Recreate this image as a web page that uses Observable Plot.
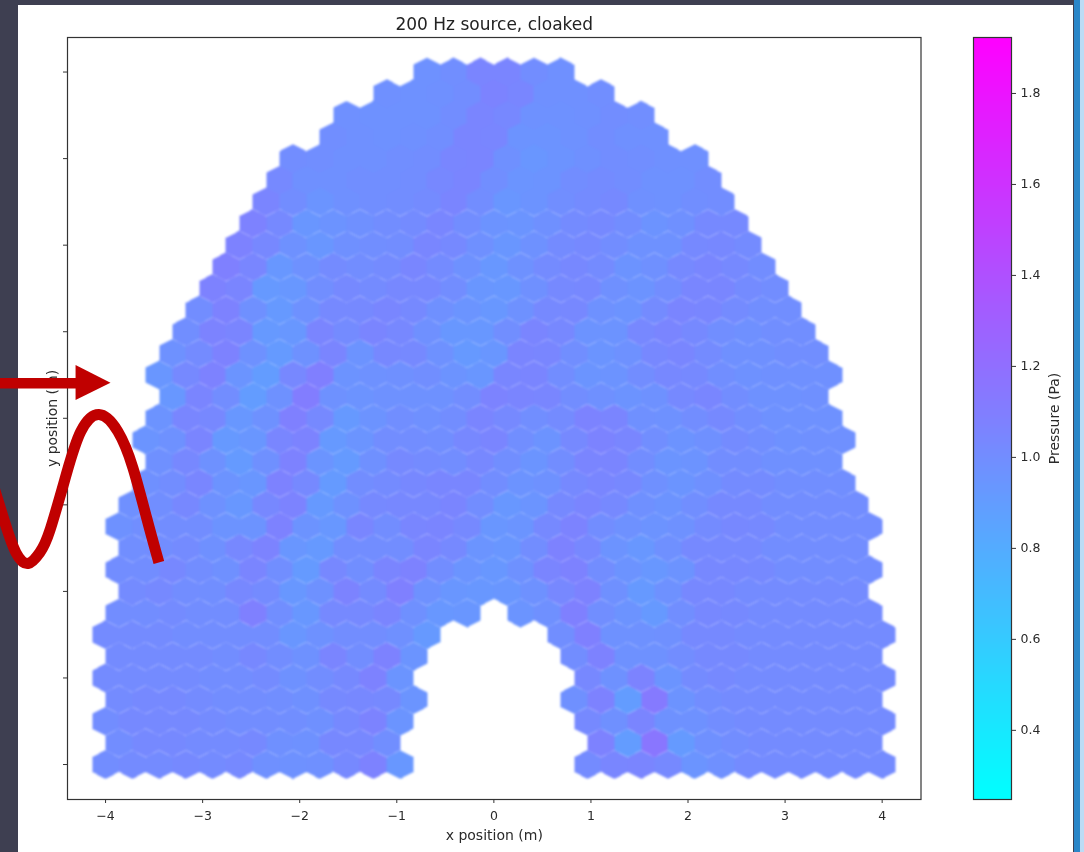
<!DOCTYPE html>
<html>
<head>
<meta charset="utf-8">
<script src="https://cdn.jsdelivr.net/npm/d3@7"></script>
<script src="https://cdn.jsdelivr.net/npm/@observablehq/plot@0.6"></script>
<style>
html,body{margin:0;padding:0;background:#3e3f51;}
#page{position:relative;width:1084px;height:852px;overflow:hidden;background:#3e3f51;}
#panel{position:absolute;left:18px;top:5px;width:1055px;height:847px;background:#fff;}
#stripA{position:absolute;left:1074px;top:0;width:6px;height:852px;background:#2a86c8;}
#stripB{position:absolute;left:1080px;top:0;width:4px;height:852px;background:#bcdcf5;}
#main,#bar{position:absolute;top:0;filter:blur(0.4px);}
#main{left:0;}
#bar{left:963px;}
</style>
</head>
<body>
<div id="page">
  <div id="panel"></div><div id="stripA"></div><div id="stripB"></div>
  <div id="main"></div><div id="bar"></div>
</div>
<script>
// Pressure per hexagon, bottom row first; first column index per row; null = hole
const rowStart = [0,0,0,0,0,0,0,0,1,0,1,0,1,1,2,1,2,2,2,2,3,3,4,4,5,5,6,6,7,8,9,10,12];
const row0 = [1.0,1.01,1.01,1.02,1.01,1.02,.98,.97,.98,1.02,1.07,.93,null,null,null,null,null,null,1.01,1.04,1.05,1.02,.95,.98,1.01,1.01,1.01,1.01,1.01,1.01];
const row1 = [1.0,1.02,1.02,1.01,1.01,1.02,.98,.97,1.03,1.03,.99,null,null,null,null,null,null,null,1.07,.90,1.15,.91,.98,1.0,1.01,1.01,1.01,1.01,1.01];
const row2 = [1.0,1.02,1.02,1.02,1.01,1.0,1.0,.99,.98,1.02,1.06,.95,null,null,null,null,null,null,1.02,.98,1.05,.97,.97,1.0,1.01,1.01,1.01,1.01,1.01,1.01];
const row3 = [1.01,1.02,1.02,1.01,1.0,1.0,.99,.98,1.02,1.03,1.02,.95,null,null,null,null,null,.98,1.07,.90,1.12,.96,1.0,1.01,1.01,1.01,1.01,1.01,1.01];
const row4 = [1.01,1.01,1.01,1.01,1.0,1.0,1.01,.97,1.0,1.02,1.07,.95,null,null,null,null,null,null,1.03,.97,1.06,.95,1.01,1.02,1.01,1.01,1.01,1.01,1.01,1.01];
const row5 = [1.01,1.01,1.01,1.01,1.0,1.03,1.0,.97,1.05,1.0,1.07,.95,null,null,null,null,null,1.0,1.07,.97,.97,1.0,1.02,1.02,1.01,1.01,1.01,1.01,1.01];
const row6 = [1.01,1.01,1.01,1.0,1.0,1.0,1.0,.94,.97,1.0,1.0,.98,.92,null,null,null,null,.99,1.08,.97,.97,.98,1.02,1.02,1.01,1.01,1.01,1.01,1.01,1.01];
const row7 = [1.0,1.0,1.01,1.0,1.0,1.08,.99,.93,1.02,1.02,1.05,.98,.93,.94,null,.95,.98,1.08,.99,.96,.92,.99,1.03,1.02,1.01,1.01,1.01,1.01,1.01];
const row8 = [1.01,1.02,1.0,.99,1.03,1.01,.93,.97,1.06,1.01,1.08,.97,.94,.93,.94,.97,1.03,1.07,.98,.92,.97,1.03,1.03,1.01,1.01,1.01,1.01,1.01];
const row9 = [1.0,1.0,1.03,1.0,.98,1.05,.99,.91,1.03,.99,1.05,1.07,1.0,.95,.93,.97,1.05,1.07,1.0,.96,.93,.96,1.03,1.03,1.02,1.0,1.0,1.0,1.0];
const row10 = [.99,1.0,1.01,.98,1.03,1.06,.94,.92,1.0,1.0,1.0,1.05,1.02,.95,.94,1.0,1.07,1.03,.96,.93,.98,1.02,1.02,1.02,1.0,1.0,1.0,1.0];
const row11 = [.97,.99,1.0,1.0,.96,.96,1.07,.96,.93,1.04,1.0,1.04,1.05,1.02,.94,.95,1.02,1.06,1.0,.97,.96,.97,1.01,1.03,1.02,1.0,1.0,1.0,1.0];
const row12 = [.98,.99,1.03,.97,.93,1.03,1.06,.92,.97,1.02,1.03,1.03,1.05,1.0,.93,.95,1.02,1.05,1.02,.98,.96,.99,1.02,1.02,1.0,1.0,1.0,1.0];
const row13 = [.98,1.0,1.04,.96,.94,1.07,1.02,.91,1.0,1.01,1.03,1.04,1.04,1.0,.96,.97,1.02,1.04,1.03,.98,.95,.98,1.01,1.01,.99,.99,.99];
const row14 = [.98,1.03,.97,.91,.98,1.07,.95,.91,.98,1.02,1.01,1.0,1.03,.99,.95,1.0,1.05,1.05,1.0,.95,.96,1.0,1.0,.98,.98,.98];
const row15 = [.95,.97,1.05,.92,.94,1.04,1.06,.92,.95,1.0,1.0,.99,1.03,1.05,.99,.96,1.02,1.06,1.04,.99,.96,.98,1.01,.99,.97,.98,.98];
const row16 = [.96,1.04,1.03,.93,.97,1.08,1.02,.92,.96,.99,.98,1.0,1.05,1.02,.99,1.01,1.06,1.05,.98,.97,1.0,1.02,.99,.97,.97,.97];
const row17 = [.93,1.05,1.0,.90,.97,1.1,.97,.96,.97,.97,.97,1.0,1.06,1.05,1.04,1.0,.98,.96,.97,1.02,1.04,1.0,.97,.97,.98];
const row18 = [.94,1.02,1.07,.95,.90,1.03,1.09,.96,.97,.98,.99,.96,.94,1.04,1.05,1.0,.95,.96,1.0,1.03,1.02,.99,.97,.98,.98,.98];
const row19 = [.97,1.01,1.07,.97,.91,.97,1.05,.96,1.03,1.02,.97,.92,.94,1.05,1.04,.99,.95,.97,1.03,1.04,1.01,.98,.98,.99,.99];
const row20 = [.99,1.06,1.05,.92,.93,1.05,1.01,1.05,1.03,.98,.93,.93,.99,1.05,1.03,.96,.96,1.03,1.05,1.02,.99,.98,.99,.99];
const row21 = [1.0,1.07,.98,.92,.97,1.02,1.02,1.04,1.02,.98,.95,.93,.97,1.02,1.03,.97,.96,1.01,1.05,1.04,1.01,.99,.99];
const row22 = [1.07,1.05,.92,.93,.99,1.02,1.01,1.03,1.03,1.0,.94,.93,.98,1.02,1.03,.98,.96,1.0,1.04,1.04,1.01,1.0];
const row23 = [1.08,1.04,.93,.97,1.01,1.0,1.01,1.04,1.01,.97,.93,.97,1.01,1.03,1.01,.96,.98,1.02,1.04,1.02,1.0];
const row24 = [1.07,1.03,.97,.94,.98,.99,1.0,1.04,1.02,.98,.94,.97,1.01,1.02,1.0,.97,.97,1.02,1.03,1.01];
const row25 = [1.07,1.02,.94,.96,.98,1.0,1.01,1.04,1.0,.96,.95,.98,1.01,1.02,1.0,.96,.98,1.02,1.02];
const row26 = [1.05,1.0,.95,.98,.99,1.0,1.01,1.05,1.0,.94,.96,.99,1.01,1.02,.98,.97,.99,1.0];
const row27 = [1.02,.98,.98,.99,.99,1.0,1.03,1.05,.99,.95,.96,1.0,1.01,1.0,.97,.97,1.0];
const row28 = [1.0,.99,.98,.98,.99,1.0,1.04,1.05,.98,.94,.96,.98,1.0,.99,.98,.98];
const row29 = [.99,.98,.97,.98,.99,1.05,1.04,.96,.96,.97,1.0,.98,.98];
const row30 = [.98,.97,.97,.97,1.0,1.05,1.03,.97,.97,.98,1.0,.99];
const row31 = [.98,.97,.98,1.0,1.06,1.04,.98,.98,.99];
const row32 = [.97,.99,1.05,1.05,1.0,.98];
const rows = [row0,row1,row2,row3,row4,row5,row6,row7,row8,row9,row10,row11,row12,row13,row14,row15,row16,row17,row18,row19,row20,row21,row22,row23,row24,row25,row26,row27,row28,row29,row30,row31,row32];

const xTicks = [-4,-3,-2,-1,0,1,2,3,4];
const yTicks = [0,1,2,3,4,5,6,7,8];
const barTicks = [0.4,0.6,0.8,1.0,1.2,1.4,1.6,1.8];
const pressureRange = [0.248,1.923];
const titleText = "200 Hz source, cloaked";
const xLabel = "x position (m)", yLabel = "y position (m)", barLabel = "Pressure (Pa)";

// Red hand-drawn annotation, in data units
const waveX = [-3.451,-3.575,-3.719,-3.873,-4.069,-4.255,-4.402,-4.574,-4.677,-4.798,-4.924,-5.038,-5.171];
const waveY = [2.334,2.842,3.431,3.847,4.043,3.847,3.362,2.703,2.449,2.322,2.449,2.796,3.281];
const headX = [-4.304,-3.944];
const headTop = [4.61,4.405];
const headBottom = [4.205,4.405];
const shaftY = 4.405, shaftX = [-5.2,-4.265];

const colStep = 8/29, rowStep = 0.25;
const hexes = rows.flatMap((vals,r)=>vals.map((v,k)=>v==null?null:({
  x: -4 + colStep*(rowStart[r]+k+(r%2?0.5:0)),
  y: r*rowStep,
  v
})).filter(Boolean));

const cool = t=>`rgb(${Math.round(t*255)},${Math.round((1-t)*255)},255)`;
const colorScale = {type:"linear",domain:pressureRange,interpolate:cool};

// Stretched pointy-top hexagon, same shape matplotlib's hexbin draws on this aspect
const hexSymbol = {draw(ctx){
  const w=13.5,h=14.5,s=7.3;
  ctx.moveTo(0,-h);ctx.lineTo(w,-s);ctx.lineTo(w,s);ctx.lineTo(0,h);ctx.lineTo(-w,s);ctx.lineTo(-w,-s);ctx.closePath();
}};

const font = {fontFamily:"'DejaVu Sans',sans-serif",fontSize:"12.5px",background:"transparent",color:"#2a2a2a"};
const red = "#c00000";

const main = Plot.plot({
  width:1084,height:852,
  marginLeft:67,marginRight:163.5,marginTop:37,marginBottom:53,
  style:font,
  x:{domain:[-4.392,4.400],axis:null},
  y:{domain:[-0.404,8.399],axis:null},
  color:colorScale,
  marks:[
    Plot.dot(hexes,{x:"x",y:"y",fill:"v",stroke:"none",r:5,symbol:hexSymbol,shapeRendering:"crispEdges",imageFilter:"blur(1px)"}),
    Plot.frame({stroke:"#333",strokeWidth:1.2}),
    Plot.axisX({ticks:xTicks,tickSize:4,tickPadding:8,label:null,tickFormat:d3.format("d"),stroke:"#333"}),
    Plot.axisY({ticks:yTicks,tickSize:4,tickFormat:()=>"",label:null,stroke:"#333"}),
    Plot.text([xLabel],{frameAnchor:"bottom",dy:40,fontSize:14,fill:"#2a2a2a"}),
    Plot.text([yLabel],{frameAnchor:"left",dx:-15,rotate:-90,textAnchor:"middle",fontSize:14,fill:"#2a2a2a"}),
    Plot.text([titleText],{frameAnchor:"top",dy:-20,fontSize:17,fill:"#222"}),
    Plot.ruleY([shaftY],{x1:shaftX[0],x2:shaftX[1],stroke:red,strokeWidth:10.5}),
    Plot.area(headX.map((x,i)=>({x,t:headTop[i],b:headBottom[i]})),{x1:"x",y1:"t",y2:"b",fill:red}),
    Plot.line(waveX.map((x,i)=>({x,y:waveY[i]})),{x:"x",y:"y",stroke:red,strokeWidth:11,curve:"natural",strokeLinecap:"butt"})
  ]
});
document.getElementById("main").appendChild(main);

const rampStep = 0.005;
const ramp = d3.range(pressureRange[0],pressureRange[1],rampStep);
const bar = Plot.plot({
  width:121,height:852,
  marginLeft:10,marginRight:73,marginTop:37,marginBottom:53,
  style:font,
  x:{domain:[0,1],axis:null},
  y:{domain:pressureRange,axis:null},
  color:colorScale,
  marks:[
    Plot.rect(ramp,{x1:0,x2:1,y1:d=>d,y2:d=>Math.min(d+rampStep,pressureRange[1]),fill:d=>d,shapeRendering:"crispEdges"}),
    Plot.frame({stroke:"#333",strokeWidth:1.2}),
    Plot.axisY({anchor:"right",ticks:barTicks,tickSize:4,tickPadding:5,tickFormat:d3.format(".1f"),label:null,stroke:"#333"}),
    Plot.text([barLabel],{frameAnchor:"right",dx:43,rotate:-90,textAnchor:"middle",fontSize:14,fill:"#2a2a2a"})
  ]
});
document.getElementById("bar").appendChild(bar);
</script>
</body>
</html>
